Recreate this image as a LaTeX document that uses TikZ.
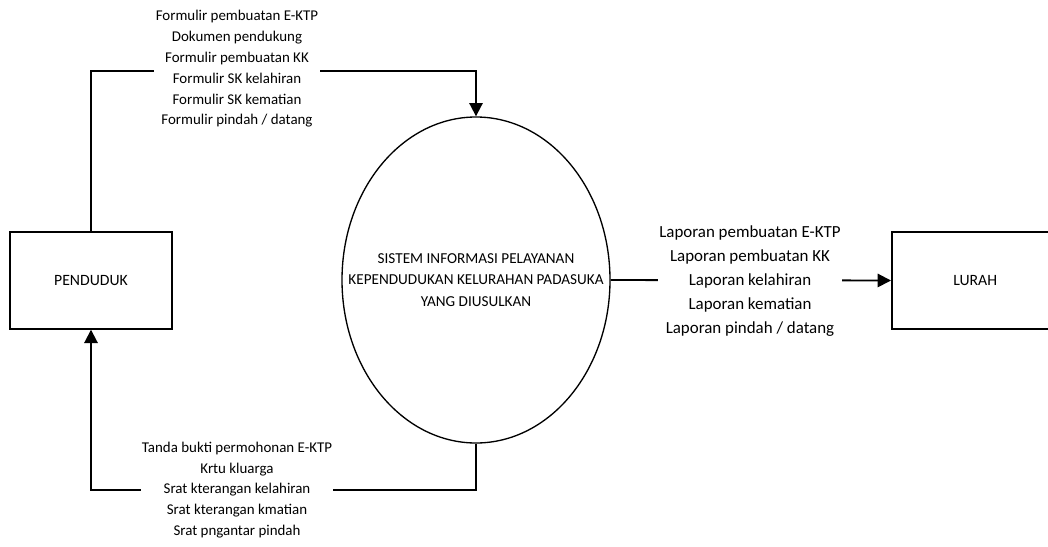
\documentclass[tikz,border=0pt]{standalone}
\usepackage{fontspec}
\setmainfont{Carlito}
\usetikzlibrary{arrows.meta,shapes.geometric}
\begin{document}
\begin{tikzpicture}[x=0.75pt,y=-0.75pt,
  entity/.style={draw,line width=1.3pt,minimum width=122pt,minimum height=72.5pt,inner sep=0pt,font=\fontsize{11.8}{13}\selectfont},
  proc/.style={draw,ellipse,line width=1pt,minimum width=201pt,minimum height=244.5pt,inner sep=0pt},
  proctext/.style={align=center,inner sep=0pt,font=\fontsize{11.4}{16.1}\selectfont},
  flow/.style={line width=1.4pt,-{Triangle[length=10pt,width=10pt]}},
  lbl/.style={fill=white,align=center,inner sep=1pt,font=\fontsize{11.2}{15.6}\selectfont},
  lblr/.style={fill=white,align=center,inner sep=1pt,font=\fontsize{12.7}{18}\selectfont}]
\useasboundingbox (0,0) rectangle (1048,546);
\node[entity] (pend) at (91,280.5) {PENDUDUK};
\node[entity,minimum width=125pt,anchor=west] (lurah) at (891,280.5) {LURAH};
\node[proc] (sys) at (476,280) {};
\node[proctext] (systxt) at (sys.center) {SISTEM INFORMASI PELAYANAN\\KEPENDUDUKAN KELURAHAN PADASUKA\\YANG DIUSULKAN};
\coordinate (tc) at (476,71);
\coordinate (bc) at (91,490);
\draw[flow] (pend.north) |- (tc) -- (sys.north);
\draw[flow] (sys.south) |- (bc) -- (pend.south);
\draw[flow] (sys.east) -- (lurah.west);
\node[lbl] (tin) at (237,69) {Formulir pembuatan E-KTP\\Dokumen pendukung\\Formulir pembuatan KK\\Formulir SK kelahiran\\Formulir SK kematian\\Formulir pindah / datang};
\node[lbl] (tout) at (237,490) {Tanda bukti permohonan E-KTP\\Krtu kluarga\\Srat kterangan kelahiran\\Srat kterangan kmatian\\Srat pngantar pindah};
\node[lblr] (trep) at (750,281) {Laporan pembuatan E-KTP\\Laporan pembuatan KK\\Laporan kelahiran\\Laporan kematian\\Laporan pindah / datang};
\end{tikzpicture}
\end{document}
